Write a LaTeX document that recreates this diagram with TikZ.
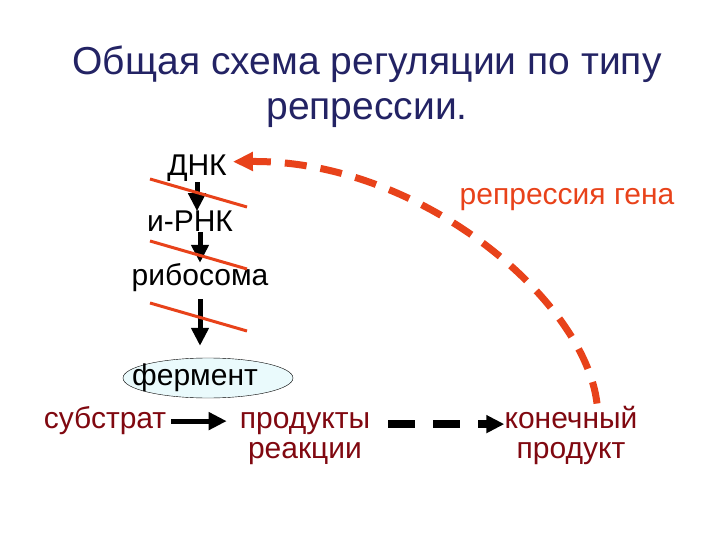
\documentclass[tikz,border=0pt]{standalone}
\usepackage{fontspec}
\setmainfont{Liberation Sans}
\usetikzlibrary{arrows.meta, shapes.geometric}

\definecolor{titleblue}{RGB}{35,35,100}
\definecolor{prodred}{RGB}{128,8,16}
\definecolor{repred}{RGB}{232,66,26}
\definecolor{fermfill}{RGB}{234,250,252}

\begin{document}
\begin{tikzpicture}[x=1pt,y=-1pt,
    lbl/.style={font=\fontsize{30}{30}\selectfont, inner sep=0pt, anchor=base},
    sub/.style={lbl, text=prodred, align=center},
    flow/.style={line width=5pt, -{Triangle[length=18pt,width=17pt]}},
    cut/.style={repred, line width=3pt}]
    \useasboundingbox (0,0) rectangle (720,540);

    \node(title)[font=\fontsize{39}{45}\selectfont, text=titleblue, align=center,
      anchor=base] at (367,120) {Общая схема регуляции по типу\\репрессии.};

    \node(dnk)[lbl] at (197,176) {ДНК};
    \node(irnk)[lbl] at (190,232) {и-РНК};
    \node(ribo)[lbl] at (200,285) {рибосома};
    \node(ferm)[lbl, ellipse, draw, thin, fill=fermfill, minimum width=170pt,
      minimum height=40pt, anchor=center] at (208,378) {\makebox[0pt]{фермент\kern26pt}};

    \node(subs)[sub] at (105,428) {субстрат};
    \node(prod)[sub] at (305,458) {продукты\\реакции};
    \node(kon)[sub] at (571,458) {конечный\\продукт};
    \node(rep)[lbl, text=repred] at (567,205) {репрессия гена};

    \draw[flow] (dnk.south) -- (dnk.south |- irnk.north);
    \draw[flow] (ribo.north |- irnk.south) -- (ribo.north);
    \draw[flow, shorten <=8pt, shorten >=12pt] (ribo.south) -- (ribo.south |- ferm.north);
    \draw[flow, shorten <=5pt, shorten >=13pt] ([yshift=-1pt]subs.east) -- ([yshift=-1pt]subs.east -| prod.west);
    \draw[flow, line width=8pt, dash pattern=on 27pt off 18pt, shorten <=18pt]
      ([yshift=-4pt]subs.east -| prod.east) -- ([yshift=-4pt]subs.east -| kon.west);

    % crossed-out steps
    \foreach \y in {179,241,303}
      \draw[cut] (150,\y) -- (247,\y+28);

    \draw[repred, line width=7pt, dash pattern=on 22pt off 14pt,
      -{Triangle[length=20pt,width=18pt]}]
      ([xshift=26pt, yshift=2pt]kon.north) .. controls (585,300) and (420,160) .. ([shift={(6pt,7pt)}]dnk.east);
\end{tikzpicture}
\end{document}
